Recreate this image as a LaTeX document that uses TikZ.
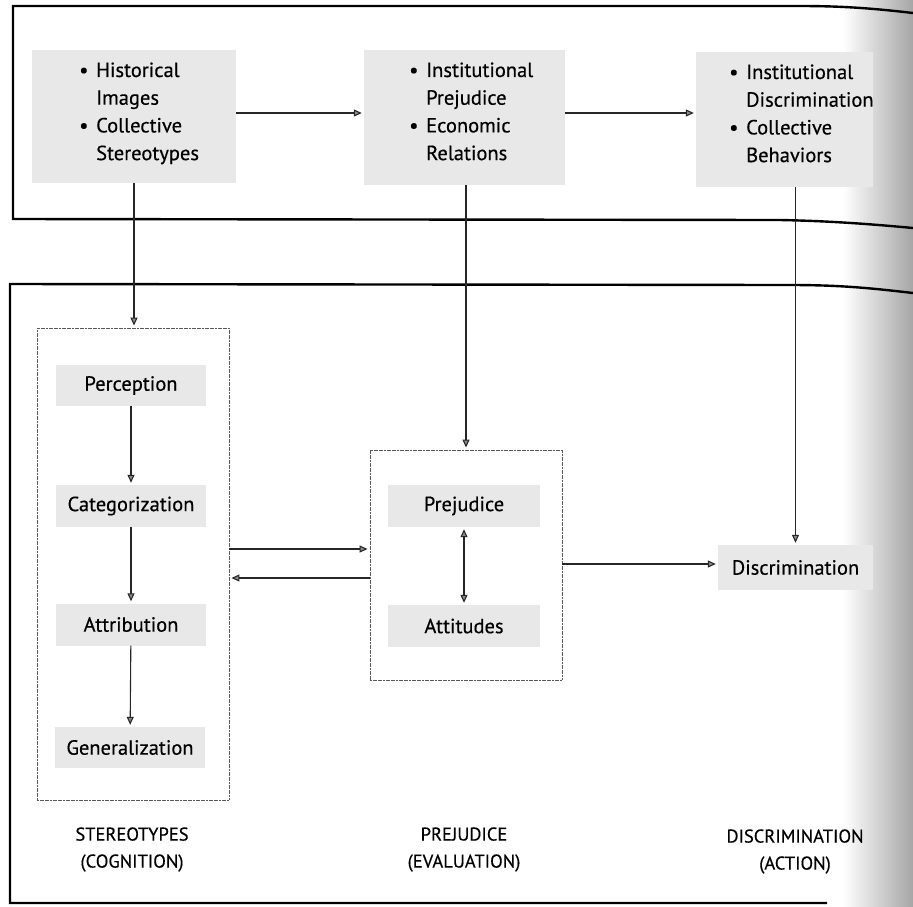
\documentclass[tikz,border=0pt]{standalone}
\usepackage{fontspec}
\setmainfont{PT Sans}
\newfontfamily\medfont{PT Sans}[FakeBold=0.45]
\usetikzlibrary{arrows.meta}
\begin{document}
\begin{tikzpicture}[x=1pt,y=-1pt,
  outer/.style={line width=2.4pt, black},
  graybox/.style={fill=black!9, draw=none, inner sep=0pt},
  container/.style={draw=black!65, line width=0.9pt, dash pattern=on 2pt off 0.6pt, inner sep=0pt},
  arr/.style={line width=1.1pt, black!85, shorten >=2pt, -{Triangle[length=8pt,width=7pt,fill=black!45]}},
  darr/.style={line width=1.1pt, black!85, shorten >=2pt, shorten <=2pt, {Triangle[length=8pt,width=7pt,fill=black!45]}-{Triangle[length=8pt,width=7pt,fill=black!45]}},
  txt/.style={font=\medfont\fontsize{20.5}{27.7}\selectfont, inner sep=0pt},
  lbl/.style={font=\medfont\fontsize{18.5}{27}\selectfont, align=center, inner sep=0pt},
]
\useasboundingbox (0,0) rectangle (913,906);
% page-curl shading at right edge of the scan
\shade[left color=white, right color=black!35, draw=none] (843,0) rectangle (913,906);

% outer frames (open on the right)
\draw[outer] (913,13) .. controls (870,8) and (840,6) .. (800,6) -- (13,6) -- (13,219) -- (780,220) .. controls (830,221) and (870,224) .. (913,228);
\draw[outer] (913,293) .. controls (870,288) and (840,285) .. (790,285) -- (10,284) -- (10,903) -- (827,903);

% top row
\node[graybox, minimum width=204, minimum height=133] (t1) at (134,116.5) {};
\node[txt, anchor=west] (t1txt) at (79,113) {\begin{tabular}{@{}p{17pt}@{}l@{}}\textbullet & Historical\\ & Images\\ \textbullet & Collective\\ & Stereotypes\end{tabular}};
\node[graybox, minimum width=201, minimum height=135] (t2) at (464.5,117.5) {};
\node[txt, anchor=west] (t2txt) at (409,113) {\begin{tabular}{@{}p{17pt}@{}l@{}}\textbullet & Institutional\\ & Prejudice\\ \textbullet & Economic\\ & Relations\end{tabular}};
\node[graybox, minimum width=177, minimum height=135] (t3) at (784.5,119.5) {};
\node[txt, anchor=west] (t3txt) at (729,115) {\begin{tabular}{@{}p{17pt}@{}l@{}}\textbullet & Institutional\\ & Discrimination\\ \textbullet & Collective\\ & Behaviors\end{tabular}};

% containers
\node[container, minimum width=192, minimum height=472] (S) at (133,564) {};
\node[container, minimum width=192, minimum height=230] (P) at (466,565) {};

% inner boxes
\node[graybox, txt, minimum width=150, minimum height=41] (perc) at (131,385.5) {Perception};
\node[graybox, txt, minimum width=150, minimum height=42] (cat) at (131,506) {Categorization};
\node[graybox, txt, minimum width=150, minimum height=42] (attr) at (131,624.5) {Attribution};
\node[graybox, txt, minimum width=150, minimum height=41] (gen) at (130,747.5) {Generalization};
\node[graybox, txt, minimum width=152, minimum height=42] (prej) at (464,506) {Prejudice};
\node[graybox, txt, minimum width=152, minimum height=42] (att) at (464,626) {Attitudes};
\node[graybox, txt, minimum width=155, minimum height=45] (disc) at (795.5,567.5) {Discrimination};

% helper rows
\coordinate (r1) at (0,113);
\coordinate (h1) at (0,549);
\coordinate (h2) at (0,578);
\coordinate (h3) at (0,564);

% connectors
\draw[arr] (t1.east |- r1) -- (t2.west |- r1);
\draw[arr] (t2.east |- r1) -- (t3.west |- r1);
\draw[arr] (t1.south) -- (t1.south |- S.north);
\draw[arr] (P.north |- t2.south) -- (P.north);
\draw[arr] (disc.north |- t3.south) -- (disc.north);
\draw[arr] (perc) -- (cat);
\draw[arr] (cat) -- (attr);
\draw[arr] (attr) -- (gen);
\draw[darr] (prej) -- (att);
\draw[arr] (S.east |- h1) -- (P.west |- h1);
\draw[arr] (P.west |- h2) -- (S.east |- h2);
\draw[arr] (P.east |- h3) -- (disc.west |- h3);

% column labels
\node[lbl] (l1) at (132,849.5) {STEREOTYPES\\(COGNITION)};
\node[lbl] (l2) at (464,849.5) {PREJUDICE\\(EVALUATION)};
\node[lbl] (l3) at (795,851.5) {DISCRIMINATION\\(ACTION)};
\end{tikzpicture}
\end{document}
